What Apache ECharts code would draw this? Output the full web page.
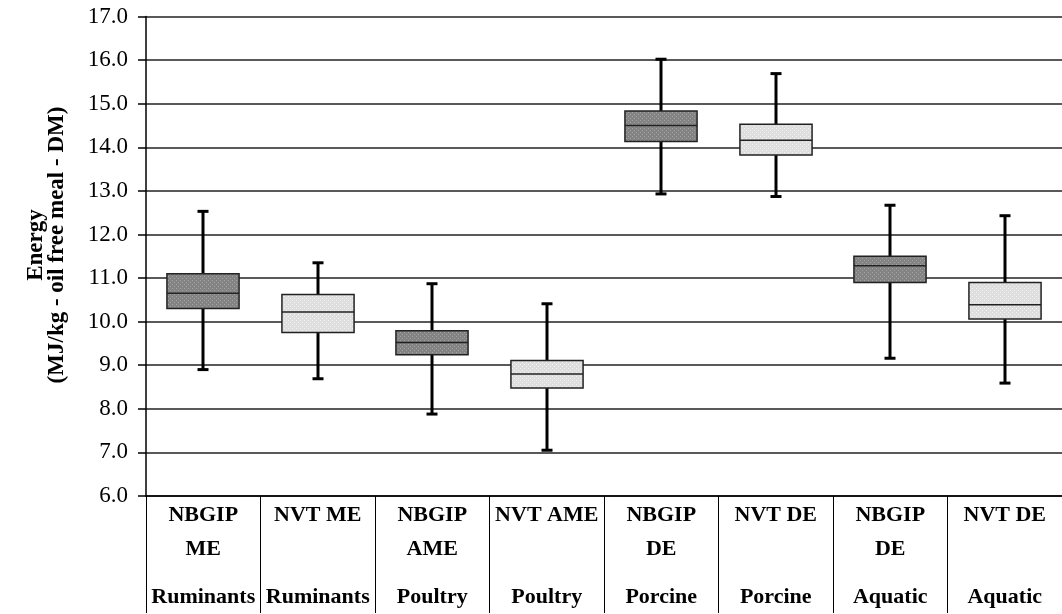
<!DOCTYPE html>
<html>
<head>
<meta charset="utf-8">
<script src="https://cdn.jsdelivr.net/npm/echarts@6/dist/echarts.min.js"></script>
<style>
  html, body { margin: 0; padding: 0; background: #fff; }
  #chart { width: 1062px; height: 614px; }
</style>
</head>
<body>
<div id="chart"></div>
<script>
// method labels (first row) and animal group (second row)
var methods = ['NBGIP\nME', 'NVT ME', 'NBGIP\nAME', 'NVT AME', 'NBGIP\nDE', 'NVT DE', 'NBGIP\nDE', 'NVT DE'];
var species = ['Ruminants', 'Ruminants', 'Poultry', 'Poultry', 'Porcine', 'Porcine', 'Aquatic', 'Aquatic'];

// box plot values, MJ/kg oil free meal DM
var whiskerLow  = [8.90, 8.69, 7.88, 7.05, 12.93, 12.87, 9.16, 8.59];
var quartile1   = [10.30, 9.75, 9.24, 8.48, 14.13, 13.82, 10.90, 10.06];
var medians     = [10.65, 10.22, 9.52, 8.80, 14.50, 14.16, 11.28, 10.39];
var quartile3   = [11.10, 10.62, 9.79, 9.11, 14.83, 14.53, 11.50, 10.90];
var whiskerHigh = [12.53, 11.35, 10.87, 10.41, 16.02, 15.69, 12.67, 12.43];

var serif = "'Liberation Serif', 'Times New Roman', serif";

// little dotted fills like the excel pattern
function makePattern(base, dot) {
  var c = document.createElement('canvas');
  c.width = 4; c.height = 4;
  var ctx = c.getContext('2d');
  ctx.fillStyle = base;
  ctx.fillRect(0, 0, 4, 4);
  ctx.fillStyle = dot;
  ctx.fillRect(0, 0, 1, 1);
  ctx.fillRect(2, 2, 1, 1);
  return { image: c, repeat: 'repeat' };
}
var darkFill = makePattern('#838383', '#a5a5a5');
var lightFill = makePattern('#dedede', '#f3f3f3');

var boxData = methods.map(function (m, i) {
  return [i, whiskerLow[i], quartile1[i], medians[i], quartile3[i], whiskerHigh[i]];
});

var chart = echarts.init(document.getElementById('chart'));

chart.setOption({
  animation: false,
  grid: { left: 146, right: -11, top: 16.5, bottom: 117 },
  graphic: [{
    type: 'text',
    x: 47,
    y: 245,
    rotation: Math.PI / 2,
    style: {
      text: 'Energy\n(MJ/kg - oil free meal - DM)',
      font: 'bold 23px ' + serif,
      fill: '#000',
      align: 'center',
      verticalAlign: 'middle',
      lineHeight: 21
    }
  }],
  xAxis: [
    {
      type: 'category',
      data: methods.map(function (m, i) { return String(i); }),
      axisLine: { lineStyle: { color: '#000', width: 1.5 } },
      axisTick: { show: true, interval: 0, length: 117, lineStyle: { color: '#000', width: 1 } },
      axisLabel: {
        interval: 0,
        margin: 2,
        color: '#000',
        fontFamily: serif,
        fontWeight: 'bold',
        fontSize: 22,
        lineHeight: 34,
        formatter: function (v, i) { return methods[i]; }
      }
    },
    {
      type: 'category',
      position: 'bottom',
      data: species.map(function (s, i) { return String(i); }),
      axisLine: { show: false },
      axisTick: { show: false },
      axisLabel: {
        interval: 0,
        margin: 84,
        color: '#000',
        fontFamily: serif,
        fontWeight: 'bold',
        fontSize: 22,
        lineHeight: 34,
        formatter: function (v, i) { return species[i]; }
      }
    }
  ],
  yAxis: {
    type: 'value',
    min: 6,
    max: 17,
    interval: 1,
    axisLine: { show: true, lineStyle: { color: '#000', width: 1.5 } },
    axisTick: { show: true, length: 8, lineStyle: { color: '#000', width: 1.5 } },
    axisLabel: {
      margin: 18,
      color: '#000',
      fontFamily: serif,
      fontSize: 23,
      formatter: function (v) { return v.toFixed(1); }
    },
    splitLine: { lineStyle: { color: '#222', width: 1.5 } }
  },
  series: [{
    type: 'custom',
    xAxisIndex: 0,
    data: boxData,
    renderItem: function (params, api) {
      var idx = api.value(0);
      var lo = api.coord([idx, api.value(1)]);
      var q1 = api.coord([idx, api.value(2)]);
      var med = api.coord([idx, api.value(3)]);
      var q3 = api.coord([idx, api.value(4)]);
      var hi = api.coord([idx, api.value(5)]);
      var band = api.size([1, 0])[0];
      var bw = band * 0.63;
      var cap = 5.5;
      var x = Math.round(lo[0]);
      var whisk = { stroke: '#000', lineWidth: 3 };
      return {
        type: 'group',
        children: [
          { type: 'line', shape: { x1: x, y1: hi[1], x2: x, y2: lo[1] }, style: whisk },
          { type: 'line', shape: { x1: x - cap, y1: hi[1], x2: x + cap, y2: hi[1] }, style: whisk },
          { type: 'line', shape: { x1: x - cap, y1: lo[1], x2: x + cap, y2: lo[1] }, style: whisk },
          {
            type: 'rect',
            shape: { x: x - bw / 2, y: q3[1], width: bw, height: q1[1] - q3[1] },
            style: { fill: idx % 2 === 0 ? darkFill : lightFill, stroke: '#222', lineWidth: 1.5 }
          },
          { type: 'line', shape: { x1: x - bw / 2, y1: med[1], x2: x + bw / 2, y2: med[1] }, style: { stroke: '#222', lineWidth: 1.5 } }
        ]
      };
    }
  }]
});
</script>
</body>
</html>
